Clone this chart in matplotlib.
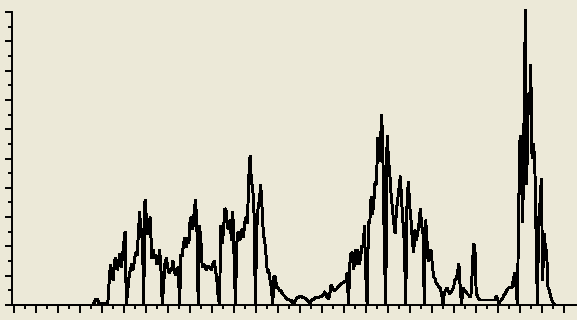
import matplotlib
matplotlib.use("Agg")
import matplotlib.pyplot as plt
import numpy as np

# half-day counts, split into stretches between the zero readings
quiet_start = [0] * 62 + [1, 2, 2, 1, 0.5, 0.5, 0.5, 0.5, 0.5, 0.5, 0.5, 7.5]
first_wave = [
    [13.7, 10, 8.5, 15, 16, 12, 14, 17.5, 13, 16, 21, 25, 0],
    [5, 9.5, 12, 14, 12, 15, 18, 17, 24, 32, 23, 26, 0],
    [36, 30, 24, 28, 30, 16, 19, 16, 17, 14, 15, 19, 12, 0],
    [7, 14, 16, 13, 11, 11.5, 12, 15, 12, 10, 12, 13, 0],
    [17, 17, 21, 23, 19.5, 23, 21, 30, 27, 26, 32, 36, 27, 0],
    [27, 22, 13, 14, 13, 12, 13, 13, 12.5, 12, 14, 15, 12, 8.5, 3, 0],
    [27, 21, 25, 33, 32, 26, 28, 29, 22, 32, 16, 0],
    [21, 25, 22, 23, 26, 23, 28, 30, 28, 43, 51, 42, 40, 31, 0],
    [26, 33, 36, 41, 33, 24, 22, 17, 11, 12, 8.5, 6, 0],
]
lull = [10, 9.5, 6, 6, 5, 5, 4, 3.5, 3, 2.5, 2, 2, 1.5, 1.5, 0.7, 0.7,
        1.5, 2.4, 2.4, 3, 3, 2.7, 2.4, 2.4, 2, 1.5, 1, 0.7, 1.5, 2, 2,
        2.4, 2.4, 2.4, 2.7, 3, 3, 3.5, 4.4, 4, 2.5, 2, 4, 7, 6, 5, 5,
        5.5, 6, 6.5, 7, 7.5, 7.5, 8, 8, 11, 0]
second_wave = [
    [14, 18, 17, 12, 19, 14, 19, 14, 16, 20, 20, 27, 10, 0],
    [28, 28, 37, 31, 35, 42, 41, 57, 49, 55, 65, 47, 18, 0],
    [58, 50, 45, 38, 33, 28, 24.5, 32, 36, 40, 44, 35, 28, 21, 0],
    [35, 42, 34, 29, 22, 18, 25.6, 22, 24.5, 28, 33, 27, 24.5, 0],
    [29, 22, 15, 17, 19, 14, 9.6, 9, 7.5, 7, 6, 5.7, 4, 0],
    [4, 5, 6, 4.5, 4, 4.5, 5, 6, 8.5, 9, 11, 14, 6, 0],
    [6, 5, 4.5, 4, 3.5, 3, 3, 11, 21, 20, 4, 3, 2, 1.7],
]
run_up = [1.7] * 11 + [3, 2, 0.7, 1.2, 1.7, 2.5, 3.5, 4, 5, 5.7, 6, 6, 6,
                       9, 11, 6, 0]
final_spike = [34, 58, 45, 28, 64, 101, 41, 71, 65, 82, 50, 55, 50, 26, 0]
tail = [29, 35, 43, 8.5, 24.5, 20, 17.7, 6, 5, 3, 1.5, 0.5] + [0] * 16

counts = (quiet_start
          + [v for row in first_wave for v in row]
          + lull
          + [v for row in second_wave for v in row]
          + run_up + final_spike + tail)
t = np.arange(len(counts))

bg = "#ECE9D8"
fig = plt.figure(figsize=(5.77, 3.2), dpi=100, facecolor=bg)
ax = fig.add_axes([12 / 577, 15 / 320, 565 / 577, 293 / 320], facecolor=bg)

ax.plot(t, counts, color="black", linewidth=1.4, clip_on=False,
        antialiased=False, solid_joinstyle="miter")

ax.set_xlim(0, 424.8)
ax.set_ylim(0, 100)

# x ticks every 22 px (1.33 px per sample), y ticks every 10 units
step = 22 / 1.33
ax.set_xticks(1.5 + step * np.arange(26))
ax.set_xticks(1.5 + step * (np.arange(25) + 0.5), minor=True)
ax.set_yticks(np.arange(0, 101, 10))
ax.set_yticks(np.arange(5, 100, 10), minor=True)

ax.tick_params(which="major", direction="out", length=5.4, width=1.4,
               colors="black", labelbottom=False, labelleft=False)
ax.tick_params(which="minor", direction="out", length=2.6, width=1.4,
               colors="black")

for side in ["top", "right"]:
    ax.spines[side].set_visible(False)
for side in ["left", "bottom"]:
    ax.spines[side].set_linewidth(1.4)

fig.savefig("out.png", dpi=100, facecolor=bg)
